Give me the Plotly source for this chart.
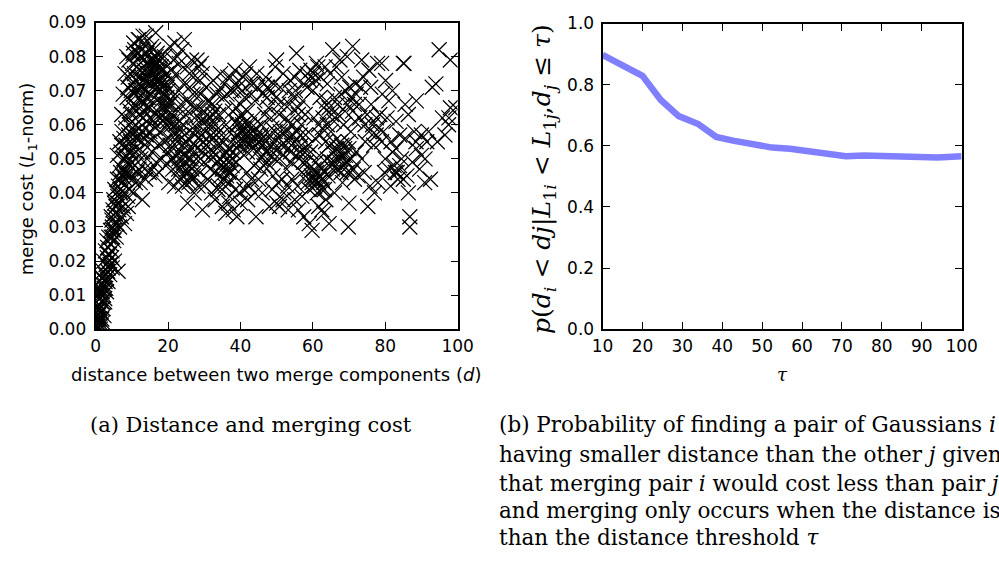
import plotly.graph_objects as go

W, H = 999, 561

# ---------------- data: panel (a) distance vs merge cost ----------------
pts_origin = [(0.2,0.000),(0.4,0.002),(0.6,0.001),(0.8,0.004),(1.0,0.003),(0.3,0.005),(0.5,0.007),
              (0.9,0.006),(1.2,0.002),(1.4,0.005),(1.1,0.009),(1.6,0.008),(0.7,0.010),(1.3,0.012),
              (1.8,0.011),(2.0,0.006),(2.2,0.010),(1.5,0.001),(2.0,0.002),(0.2,0.008),(0.5,0.012),
              (1.0,0.014),(2.5,0.008),(0.4,0.003),(1.3,0.000),(0.9,0.011),(2.3,0.004),(0.6,0.000),
              (1.7,0.003),(0.1,0.006),(0.3,0.001),(0.7,0.003),(1.1,0.006),(1.5,0.010),(1.9,0.008),
              (2.3,0.012),(2.6,0.014),(2.0,0.015)]
pts_rise = [(2.4,0.013),(2.1,0.017),(2.6,0.016),(2.8,0.012),(3.0,0.015),(2.9,0.019),(1.7,0.015),
            (3.2,0.021),(3.5,0.018),(3.8,0.022),(3.3,0.024),(4.0,0.019),(4.2,0.025),(3.6,0.027),
            (4.5,0.023),(4.1,0.029),(4.7,0.027),(4.9,0.031),(2.2,0.020),(3.0,0.011),(3.4,0.014),
            (2.7,0.023),(4.4,0.021),(6.2,0.017),(3.9,0.016),(5.0,0.026),(4.6,0.018),(2.5,0.009),
            (3.1,0.026),(5.2,0.020),(3.3,0.017),(3.7,0.020),(3.4,0.022),(4.3,0.027),(4.8,0.029),
            (4.5,0.032)]
pts_low = [(4.3,0.033),(4.8,0.035),(5.1,0.029),(5.4,0.033),(5.0,0.038),(5.6,0.036),(5.9,0.031),
           (6.1,0.039),(5.3,0.041),(6.4,0.035),(6.7,0.041),(6.0,0.044),(7.0,0.038),(7.3,0.043),
           (6.6,0.030),(7.6,0.036),(7.9,0.040),(8.2,0.044),(8.5,0.034),(8.8,0.039),(5.7,0.027),
           (4.6,0.030),(7.1,0.033),(9.3,0.041),(8.0,0.031),(6.9,0.046),(9.0,0.036),(10.5,0.040),
           (12.9,0.038),(9.8,0.045),(5.5,0.034),(5.2,0.037),(5.8,0.040),(6.3,0.042),(6.2,0.037),
           (6.9,0.040),(7.4,0.045)]
pts_mid = [(6.5,0.048),(7.0,0.052),(7.5,0.047),(8.0,0.050),(8.4,0.054),(8.8,0.049),(9.2,0.052),
           (9.6,0.055),(10.0,0.051),(10.4,0.054),(10.8,0.048),(11.2,0.052),(11.6,0.056),(9.0,0.046),
           (10.2,0.044),(11.0,0.043),(12.0,0.047),(12.5,0.050),(7.8,0.056),(8.3,0.059),(9.4,0.058),
           (10.6,0.058),(11.9,0.059),(12.8,0.055),(6.8,0.044),(7.3,0.058),(13.5,0.047),(13.0,0.052),
           (14.2,0.050),(8.6,0.045),(9.9,0.049),(11.4,0.046),(12.3,0.043),(13.8,0.044),(14.8,0.046),
           (7.7,0.050),(7.2,0.054),(8.0,0.046),(8.5,0.051),(9.4,0.048),(6.0,0.051),(6.7,0.055),
           (9.7,0.052),(10.3,0.057),(11.2,0.056),(12.3,0.057)]
pts_peak = [(8.3,0.062),(8.7,0.068),(9.0,0.074),(9.5,0.064),(9.8,0.070),(10.2,0.078),(10.5,0.084),
            (10.9,0.066),(11.2,0.073),(11.5,0.081),(11.8,0.085),(12.1,0.068),(12.4,0.076),(12.7,0.082),
            (13.0,0.071),(13.3,0.079),(13.6,0.064),(13.9,0.074),(14.2,0.081),(14.5,0.068),(14.8,0.077),
            (15.1,0.072),(15.4,0.079),(15.7,0.075),(16.0,0.082),(16.3,0.077),(16.6,0.087),(16.9,0.073),
            (17.2,0.079),(17.5,0.075),(17.8,0.070),(18.1,0.077),(18.4,0.066),(18.8,0.073),(19.2,0.069),
            (19.6,0.075),(10.0,0.061),(11.0,0.060),(12.0,0.063),(14.0,0.061),(15.0,0.065),(16.2,0.068),
            (9.2,0.079),(11.3,0.077),(13.5,0.084),(15.5,0.083),(17.0,0.081),(19.0,0.080),(12.9,0.067),
            (14.6,0.072),(8.9,0.071),(16.8,0.063),(18.0,0.062),(7.2,0.063),(7.6,0.069),(8.1,0.075),
            (8.6,0.080)]
pts_peak2 = [(9.3,0.060),(9.6,0.067),(10.1,0.072),(10.4,0.065),(10.7,0.075),(11.0,0.070),(11.4,0.064),
             (11.7,0.079),(12.2,0.072),(12.5,0.080),(12.8,0.074),(13.1,0.066),(13.4,0.076),(13.7,0.070),
             (14.0,0.078),(14.3,0.065),(14.7,0.082),(15.0,0.075),(15.3,0.069),(15.6,0.077),(15.9,0.071),
             (16.2,0.079),(16.5,0.074),(16.8,0.078),(17.1,0.071),(17.4,0.077),(17.7,0.073),(18.0,0.080),
             (18.3,0.071),(18.6,0.076),(19.0,0.072),(19.4,0.066),(19.8,0.071),(10.8,0.082),(12.0,0.085),
             (14.0,0.086),(13.0,0.062),(13.6,0.059),(15.2,0.062),(16.5,0.059),(17.6,0.062),(18.9,0.064)]
pts_peak3 = [(9.1,0.057),(9.9,0.063),(10.6,0.069),(11.3,0.070),(11.9,0.074),(12.6,0.071),(13.2,0.073),
             (13.9,0.068),(14.4,0.075),(15.0,0.079),(15.6,0.073),(16.1,0.075),(16.7,0.080),(17.3,0.073),
             (17.9,0.076),(18.5,0.069),(19.1,0.062),(19.7,0.068),(9.6,0.075),(10.4,0.081),(11.9,0.081),
             (13.1,0.086)]
pts_ridge = [(14.5,0.055),(15.0,0.058),(15.6,0.052),(16.1,0.056),(16.7,0.049),(17.2,0.054),(17.8,0.058),
             (18.3,0.050),(18.9,0.055),(19.4,0.048),(19.9,0.052),(15.3,0.047),(16.4,0.045),(17.5,0.046),
             (18.6,0.061),(19.3,0.059),(12.6,0.058),(13.2,0.062),(14.0,0.057),(15.8,0.061),(17.0,0.064),
             (18.0,0.067),(19.5,0.064),(20.0,0.070),(20.5,0.066)]
pts_20_30 = [(18.0,0.072),(19.0,0.069),(20.0,0.066),(21.0,0.063),(22.0,0.060),(23.0,0.057),(24.0,0.054),
             (25.0,0.051),(26.0,0.048),(27.0,0.045),(20.5,0.061),(21.5,0.058),(22.5,0.055),(23.5,0.052),
             (24.5,0.049),(25.5,0.046),(21.2,0.067),(22.8,0.064),(24.1,0.060),
             (20.5,0.083),(21.5,0.079),(22.3,0.075),(23.8,0.082),(24.5,0.085),(25.3,0.077),(26.0,0.071),
             (27.0,0.074),(28.0,0.079),(29.0,0.069),(21.0,0.073),(23.0,0.070),(25.0,0.067),(27.5,0.065),
             (29.5,0.075),
             (20.2,0.043),(21.3,0.047),(22.0,0.051),(23.2,0.044),(24.0,0.042),(25.8,0.043),(26.5,0.053),
             (27.8,0.050),(28.5,0.056),(29.3,0.061),(28.8,0.046),(29.6,0.052),(26.8,0.059),(27.3,0.062),
             (28.2,0.065),(25.6,0.056),(25.4,0.037),(29.5,0.035)]
pts_20_30b = [(20.3,0.056),(20.8,0.050),(21.6,0.053),(22.4,0.048),(23.0,0.050),(23.6,0.047),(24.2,0.045),
              (24.8,0.043),(25.3,0.047),(26.2,0.045),(26.8,0.044),(21.0,0.060),(22.0,0.057),(23.3,0.061),
              (24.6,0.057),(25.8,0.053),(26.4,0.050),(27.5,0.054),(28.0,0.059),(28.6,0.062),(29.2,0.057),
              (29.8,0.064),(20.8,0.076),(22.0,0.069),(23.5,0.066),(24.8,0.063),(26.3,0.066),(27.8,0.069),
              (28.8,0.073),(22.6,0.080),(26.5,0.079),(29.2,0.078),(19.8,0.061),(21.8,0.042),(27.2,0.040),
              (28.3,0.042),(30.0,0.042)]
pts_band = [(20.6,0.054),(21.4,0.050),(22.2,0.062),(22.9,0.047),(23.7,0.059),(24.4,0.051),(25.1,0.055),
            (25.9,0.050),(26.6,0.047),(27.4,0.057),(28.1,0.053),(28.9,0.050),(29.7,0.055),(30.4,0.061),
            (31.1,0.052),(31.8,0.062),(32.5,0.056),(33.2,0.051),(33.9,0.059),(34.6,0.048),(35.3,0.055),
            (36.1,0.052),(36.8,0.046),(37.6,0.050),(38.3,0.054),(39.1,0.057),(39.8,0.062),(40.6,0.060),
            (41.3,0.057),(42.1,0.055),(42.9,0.059),(43.6,0.053),(44.4,0.057),(35.6,0.064),(37.0,0.058),
            (38.8,0.061),(40.2,0.063),(32.9,0.064),(30.9,0.067),(34.1,0.070),(36.3,0.069),(39.3,0.071),
            (42.7,0.072),(44.8,0.071),(26.9,0.069),(24.3,0.072),(21.9,0.084),(23.1,0.078),(25.9,0.075),
            (28.6,0.077)]
pts_30_45 = [(30.2,0.058),(30.8,0.063),(31.4,0.055),(32.0,0.060),(32.6,0.052),(33.2,0.057),(33.8,0.049),
             (34.4,0.054),(35.0,0.047),(35.6,0.051),(36.2,0.045),(36.8,0.049),(37.4,0.046),(38.0,0.052),
             (38.6,0.056),(39.2,0.060),(39.8,0.058),(40.4,0.055),(41.0,0.059),(41.6,0.061),(42.2,0.057),
             (42.8,0.054),(43.4,0.058),(44.0,0.056),(44.6,0.052),
             (30.5,0.071),(31.5,0.067),(32.5,0.073),(33.5,0.069),(34.5,0.075),(35.5,0.072),(36.5,0.074),
             (37.5,0.070),(38.5,0.076),(39.5,0.073),(40.5,0.070),(41.5,0.075),(42.5,0.077),(43.5,0.072),
             (44.5,0.075),
             (31.0,0.044),(32.0,0.040),(33.0,0.038),(34.0,0.042),(35.0,0.036),(36.0,0.034),(37.0,0.039),
             (38.0,0.035),(39.0,0.033),(40.0,0.037),(41.0,0.041),(42.0,0.038),(43.0,0.044),(44.0,0.040),
             (30.0,0.049),(31.8,0.050),(34.0,0.063),(36.0,0.060),(37.8,0.064),(40.0,0.066),(42.0,0.064),
             (44.0,0.067),(33.0,0.046),(35.3,0.044),(36.6,0.053),(44.3,0.033)]
pts_30_45b = [(30.6,0.054),(31.2,0.060),(31.9,0.057),(32.4,0.063),(33.0,0.060),(33.6,0.054),(34.2,0.050),
              (34.8,0.057),(35.4,0.049),(36.0,0.047),(36.5,0.050),(37.1,0.043),(37.7,0.048),(38.3,0.045),
              (38.9,0.049),(39.5,0.054),(40.1,0.052),(40.7,0.058),(41.3,0.055),(41.9,0.052),(42.5,0.060),
              (43.1,0.055),(43.7,0.062),(44.3,0.059),(44.9,0.055),(32.2,0.066),(35.2,0.068),(38.2,0.070),
              (39.0,0.065),(41.2,0.068),(43.0,0.069),(37.2,0.074),(40.8,0.074),(33.8,0.041),(36.8,0.037),
              (39.6,0.040),(42.4,0.042),(34.6,0.045),(35.8,0.042),(38.6,0.041),(31.6,0.047),(41.8,0.046),
              (43.8,0.048)]
pts_45_60 = [(45.5,0.050),(46.0,0.054),(46.5,0.048),(47.0,0.052),(47.5,0.071),(47.0,0.074),(46.2,0.069),
             (48.0,0.057),(48.5,0.062),(49.0,0.045),(49.5,0.050),(50.0,0.079),(50.5,0.066),(51.0,0.058),
             (51.5,0.044),(52.0,0.040),(52.5,0.054),(53.0,0.061),(53.5,0.070),(54.0,0.049),(54.5,0.057),
             (55.0,0.074),(55.5,0.081),(56.0,0.063),(56.5,0.052),(57.0,0.046),(57.5,0.072),(58.0,0.057),
             (58.5,0.075),(59.0,0.041),(59.5,0.076),(45.0,0.044),(46.0,0.040),(48.0,0.036),(50.0,0.037),
             (50.8,0.036),(53.0,0.042),(55.0,0.038),(56.0,0.035),(57.5,0.033),(59.0,0.031),(45.8,0.060),
             (47.8,0.065),(49.2,0.072),(51.8,0.075),(52.8,0.047),(54.8,0.068),(56.8,0.060),(58.2,0.049),
             (58.8,0.054)]
pts_45_60b = [(45.2,0.055),(45.8,0.057),(46.4,0.051),(47.2,0.049),(47.8,0.053),(48.4,0.051),(49.0,0.055),
              (49.6,0.058),(50.2,0.053),(50.8,0.050),(51.4,0.054),(52.0,0.058),(52.6,0.062),(53.2,0.056),
              (53.8,0.052),(54.4,0.060),(55.0,0.055),(55.6,0.058),(56.2,0.050),(56.8,0.054),(57.4,0.049),
              (58.0,0.045),(58.6,0.043),(46.6,0.072),(47.4,0.068),(48.2,0.070),(49.8,0.068),(51.0,0.071),
              (52.2,0.066),(53.8,0.073),(55.2,0.070),(56.4,0.076),(57.2,0.067),(58.4,0.071),(59.2,0.073),
              (48.8,0.041),(50.4,0.043),(51.8,0.038),(54.2,0.044),(55.8,0.042),(57.0,0.039),(53.2,0.035),
              (49.6,0.077)]
pts_45_72c = [(45.6,0.047),(46.9,0.055),(48.1,0.048),(49.3,0.053),(50.5,0.056),(51.7,0.051),(52.9,0.058),
              (54.1,0.054),(55.3,0.051),(56.5,0.057),(57.7,0.052),(58.9,0.047),(59.8,0.043),(60.9,0.044),
              (61.7,0.045),(62.4,0.047),(63.2,0.041),(64.2,0.045),(65.4,0.047),(66.6,0.050),(67.6,0.055),
              (68.8,0.053),(69.6,0.049),(70.4,0.046),(59.4,0.052),(60.3,0.062),(62.6,0.059),(65.9,0.061),
              (68.9,0.064),(71.6,0.061),(46.7,0.063),(48.7,0.059),(50.7,0.063),(53.6,0.066),(55.9,0.065),
              (57.9,0.063)]
pts_60_72 = [(60.0,0.044),(60.5,0.042),(61.0,0.046),(61.5,0.043),(62.0,0.045),(62.5,0.041),(63.0,0.043),
             (60.8,0.049),(61.8,0.051),(60.2,0.075),(60.8,0.073),(61.4,0.077),(59.8,0.029),(62.5,0.035),
             (63.0,0.034),(64.5,0.031),(63.5,0.055),(64.0,0.060),(64.5,0.065),(65.0,0.058),(65.5,0.052),
             (66.0,0.049),(66.5,0.053),(67.0,0.047),(67.5,0.050),(68.0,0.054),(68.5,0.048),(69.0,0.051),
             (69.5,0.046),(70.0,0.053),(65.5,0.082),(66.5,0.077),(68.0,0.074),(69.0,0.070),(70.5,0.068),
             (71.0,0.083),(71.5,0.066),(72.0,0.069),(70.0,0.037),(69.8,0.030),(71.0,0.064),(66.0,0.068),
             (67.0,0.063),(62.0,0.057),(63.0,0.065),(62.0,0.068),(64.0,0.072),(68.5,0.060),(70.5,0.058)]
pts_60_72b = [(59.6,0.045),(60.4,0.047),(61.2,0.040),(61.9,0.048),(62.6,0.044),(63.3,0.046),(64.0,0.050),
              (64.6,0.054),(65.2,0.049),(65.8,0.055),(66.4,0.047),(67.2,0.052),(67.8,0.046),(68.4,0.051),
              (69.2,0.049),(69.8,0.055),(70.6,0.050),(71.2,0.047),(60.6,0.056),(61.6,0.060),(62.8,0.062),
              (63.8,0.067),(65.2,0.063),(66.8,0.066),(67.8,0.069),(69.6,0.066),(70.2,0.071),(71.8,0.072),
              (60.0,0.070),(61.0,0.078),(62.2,0.074),(63.4,0.077),(64.8,0.075),(67.5,0.079),(69.5,0.080),
              (61.6,0.036),(63.6,0.038),(66.0,0.040),(68.2,0.043),(71.5,0.044),(72.0,0.052)]
pts_right = [(73.5,0.079),(77.9,0.078),(85.0,0.078),(85.2,0.078),(94.9,0.082),(98.0,0.079),(80.1,0.073),
             (94.0,0.072),(88.6,0.067),(85.5,0.066),(79.2,0.069),(76.1,0.066),(98.0,0.065),(95.8,0.062),
             (86.4,0.063),(94.4,0.055),(90.0,0.057),(88.6,0.053),(90.0,0.051),(90.9,0.043),(86.4,0.040),
             (86.8,0.033),(86.8,0.030),(81.5,0.042),(83.3,0.046),(75.2,0.036),(72.5,0.045),(73.5,0.050),
             (74.5,0.055),(75.5,0.058),(76.5,0.060),(77.5,0.057),(78.5,0.063),(79.0,0.055),(80.0,0.050),
             (81.0,0.047),(82.0,0.052),(82.5,0.048),(83.5,0.044),(84.5,0.050),(85.5,0.056),(86.0,0.045),
             (88.0,0.058),(89.5,0.047),(91.5,0.055),(92.5,0.044),(99.5,0.065),(97.5,0.060),(74.0,0.074),
             (76.0,0.071),(81.0,0.067),(83.0,0.061),(84.0,0.057),(73.0,0.062),(78.0,0.043),(77.0,0.040),
             (93.0,0.071),(97.6,0.062)]
pts_right_b = [(72.8,0.066),(74.4,0.060),(75.0,0.063),(76.8,0.054),(77.6,0.062),(78.2,0.059),(79.5,0.058),
               (80.5,0.062),(81.6,0.055),(82.8,0.046),(84.0,0.048),(85.0,0.044),(74.2,0.046),(75.8,0.042),
               (79.8,0.046),(83.0,0.053),(87.5,0.049),(88.5,0.055),(91.0,0.050),(92.0,0.058),(96.5,0.057),
               (73.2,0.071),(75.5,0.076),(79.0,0.078),(82.0,0.070)]

all_pts = (pts_origin + pts_rise + pts_low + pts_mid + pts_peak + pts_peak2 + pts_peak3 + pts_ridge +
           pts_20_30 + pts_20_30b + pts_band + pts_30_45 + pts_30_45b + pts_45_60 + pts_45_60b +
           pts_45_72c + pts_60_72 + pts_60_72b + pts_right + pts_right_b)
dist = [p[0] for p in all_pts]
cost = [p[1] for p in all_pts]

# ---------------- data: panel (b) probability vs tau ----------------
tau = [10, 15.7, 20, 24.6, 29.1, 34, 38.5, 43, 48, 52.5, 57, 62, 66, 71, 75.5, 80, 85, 89.5, 94, 100]
prob = [0.897, 0.855, 0.829, 0.750, 0.697, 0.671, 0.629, 0.616, 0.602, 0.594, 0.590, 0.581,
        0.573, 0.566, 0.568, 0.568, 0.565, 0.563, 0.562, 0.566]

FONT = "DejaVu Sans"
SERIF = "DejaVu Serif"

def px_x(p):
    return p / W

def px_y(p):
    return 1 - p / H

fig = go.Figure()
fig.add_trace(go.Scatter(
    x=dist, y=cost, mode="markers", xaxis="x", yaxis="y",
    marker=dict(symbol="x-thin-open", size=15, color="black",
                line=dict(color="black", width=1.2)),
    showlegend=False))
fig.add_trace(go.Scatter(
    x=tau, y=prob, mode="lines", xaxis="x2", yaxis="y2",
    line=dict(color="rgba(0,0,255,0.5)", width=6.5), showlegend=False))

axis_common = dict(showline=True, mirror="ticks", linecolor="black", linewidth=2,
                   ticks="inside", ticklen=7, tickwidth=1, tickcolor="black",
                   showgrid=False, zeroline=False,
                   tickfont=dict(family=FONT, size=17, color="black"))

fig.update_layout(
    width=W, height=H, margin=dict(l=0, r=0, t=0, b=0),
    paper_bgcolor="white", plot_bgcolor="white",
    xaxis=dict(domain=[px_x(87), px_x(459)], range=[0, 100], tickvals=[0, 20, 40, 60, 80, 100],
               anchor="y", **axis_common),
    yaxis=dict(domain=[px_y(331), px_y(13)], range=[0, 0.09],
               tickvals=[0, 0.01, 0.02, 0.03, 0.04, 0.05, 0.06, 0.07, 0.08, 0.09],
               tickformat=".2f", anchor="x", ticklabelstandoff=4, **axis_common),
    xaxis2=dict(domain=[px_x(608), px_x(977)], range=[10, 100],
                tickvals=[10, 20, 30, 40, 50, 60, 70, 80, 90, 100], anchor="y2", **axis_common),
    yaxis2=dict(domain=[px_y(331), px_y(14)], range=[0, 1],
                tickvals=[0, 0.2, 0.4, 0.6, 0.8, 1.0], tickformat=".1f", anchor="x2",
                ticklabelstandoff=3, **axis_common),
)

ann = []
def add(text, x, y, size, family=FONT, angle=0, xanchor="center", yanchor="middle"):
    ann.append(dict(text=text, x=px_x(x), y=px_y(y), xref="paper", yref="paper",
                    showarrow=False, textangle=angle, xanchor=xanchor, yanchor=yanchor,
                    font=dict(family=family, size=size, color="black")))

add("merge cost (<i>L</i><sub>1</sub>-norm)", 17, 175, 18, angle=-90)
add("distance between two merge components (<i>d</i>)", 272, 378, 18)
add("<i>p</i>(<i>d<sub>i</sub></i> &lt; <i>dj</i>|<i>L</i><sub>1<i>i</i></sub> &lt; "
    "<i>L</i><sub>1<i>j</i></sub>,<i>d<sub>j</sub></i> ≤ <i>τ</i>)", 547, 175, 25,
    family=SERIF, angle=-90)
add("<i>τ</i>", 793, 378, 18, family=SERIF)

add("(a) Distance and merging cost", 79, 430, 21, family=SERIF, xanchor="left")
cap_b = ["(b) Probability of finding a pair of Gaussians <i>i</i>",
         "having smaller distance than the other <i>j</i> given",
         "that merging pair <i>i</i> would cost less than pair <i>j</i>",
         "and merging only occurs when the distance is less",
         "than the distance threshold <i>τ</i>"]
cap_y = [430, 461, 491, 519, 547]
for t, yy in zip(cap_b, cap_y):
    add(t, 500, yy, 21.5, family=SERIF, xanchor="left")

fig.update_layout(annotations=ann)
fig.write_html("out.html")
